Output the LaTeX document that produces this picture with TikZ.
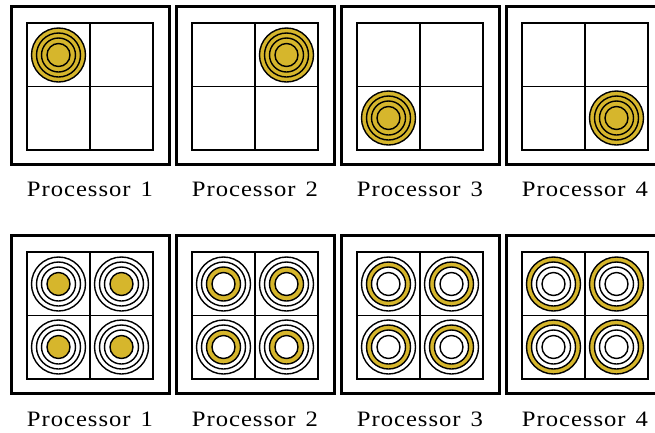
\documentclass[tikz,border=0pt]{standalone}
\usepackage{graphicx}
\usepackage{fontspec}
\setmainfont{Liberation Serif}
\definecolor{gold}{RGB}{214,182,44}
\newcommand{\procfont}{\addfontfeatures{LetterSpace=4}\fontsize{22pt}{22pt}\selectfont}
\newcommand{\proclabel}[1]{\scalebox{1.12}[1]{Processor\hspace{9pt}#1}}
\tikzset{
  frame/.style={line width=3pt},
  gridline/.style={line width=1.3pt},
  ring/.style={line width=1.4pt},
  caption/.style={anchor=base, inner sep=0pt, font=\procfont}
}
% radii of the four concentric circles
\def\ra{11.5}\def\rb{17}\def\rc{22}\def\rd{27}
\begin{document}
\begin{tikzpicture}[x=1pt,y=-1pt]
\useasboundingbox (0,0) rectangle (655,432);
\clip (0,0) rectangle (655,432);
\foreach \i in {1,...,4}{
  \pgfmathsetmacro{\xo}{11+165*(\i-1)}
  % ---- top row: one quadrant per processor ----
  \draw[frame] (\xo,6) rectangle ++(158,158);
  \draw[gridline] (\xo+16,23) rectangle ++(126,127);
  \draw[gridline] (\xo+79,23) -- ++(0,127);
  \draw[gridline] (\xo+16,86.5) -- ++(126,0);
  \pgfmathsetmacro{\cx}{\xo+47.5+63*mod(\i-1,2)}
  \pgfmathsetmacro{\cy}{55+63*int((\i-1)/2)}
  \fill[gold] (\cx,\cy) circle (\rd);
  \foreach \r in {\ra,\rb,\rc,\rd}{\draw[ring] (\cx,\cy) circle (\r);}
  \node[caption] (ptop\i) at (\xo+79,196) {\proclabel{\i}};
  % ---- bottom row: one ring per processor in every quadrant ----
  \draw[frame] (\xo,235) rectangle ++(158,158);
  \draw[gridline] (\xo+16,252) rectangle ++(126,127);
  \draw[gridline] (\xo+79,252) -- ++(0,127);
  \draw[gridline] (\xo+16,315.5) -- ++(126,0);
  \foreach \qx in {0,1}{
    \foreach \qy in {0,1}{
      \pgfmathsetmacro{\bx}{\xo+47.5+63*\qx}
      \pgfmathsetmacro{\by}{284+63*\qy}
      \ifcase\i\or
        \fill[gold] (\bx,\by) circle (\ra);
      \or
        \fill[gold,even odd rule] (\bx,\by) circle (\rb) circle (\ra);
      \or
        \fill[gold,even odd rule] (\bx,\by) circle (\rc) circle (\rb);
      \or
        \fill[gold,even odd rule] (\bx,\by) circle (\rd) circle (\rc);
      \fi
      \foreach \r in {\ra,\rb,\rc,\rd}{\draw[ring] (\bx,\by) circle (\r);}
    }
  }
  \node[caption] (pbot\i) at (\xo+79,426) {\proclabel{\i}};
}
\end{tikzpicture}
\end{document}
